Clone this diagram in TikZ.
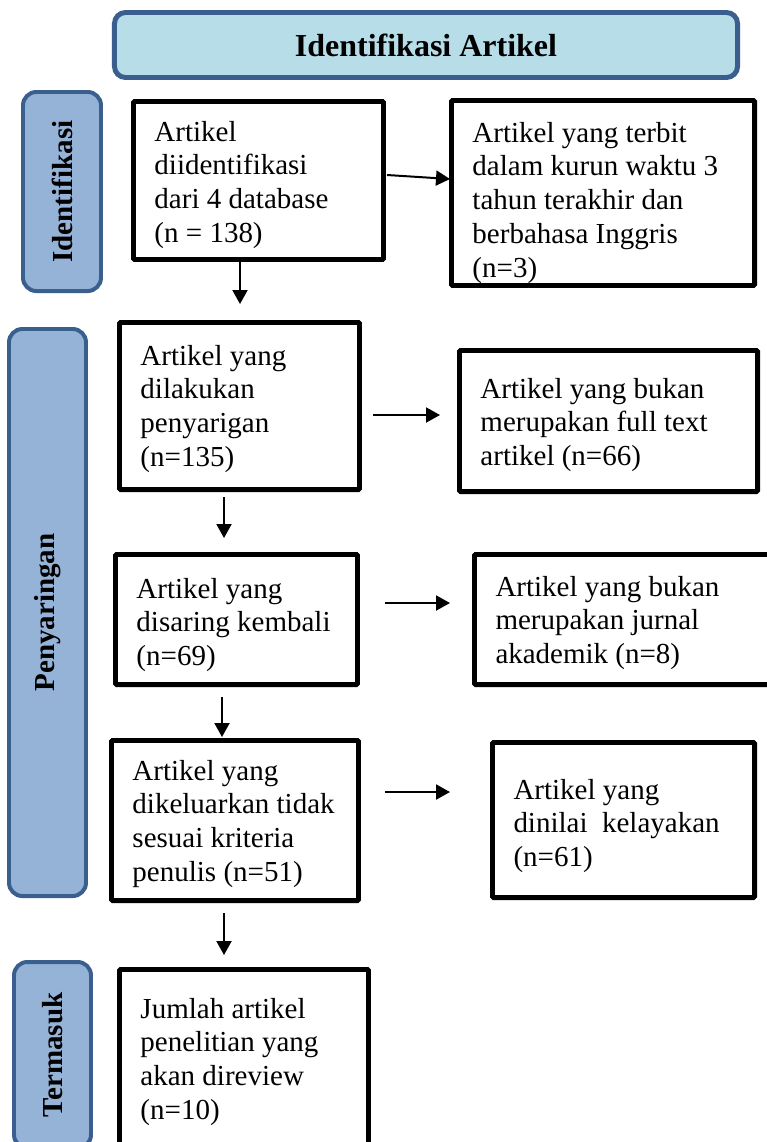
\documentclass[tikz,border=0pt]{standalone}
\usepackage{fontspec}
\setmainfont{Liberation Serif}
\usetikzlibrary{arrows.meta,calc}

\definecolor{judulfill}{HTML}{B7DDE8}
\definecolor{sisifill}{HTML}{95B3D7}
\definecolor{sisiline}{HTML}{3A5F8F}

\begin{document}
\begin{tikzpicture}[x=0.03cm, y=-0.03cm,
    kotak/.style={draw, line width=4.25pt, rounded corners=1pt, align=flush left, inner xsep=0.63cm,
      text height=0pt, font=\fontsize{24.75pt}{29pt}\selectfont},
    sisi/.style={draw=sisiline, fill=sisifill, line width=3.4pt, rounded corners=0.4cm, rotate=90,
      font=\fontsize{24.75pt}{29pt}\selectfont\bfseries},
    panah/.style={line width=1.7pt, -{Triangle[length=0.42cm, width=0.45cm]}}]
      \useasboundingbox (0,0) rectangle (767,1142);
      \clip (0,0) rectangle (767,1142);

      \node[draw=sisiline, fill=judulfill, line width=4.25pt, rounded corners=0.33cm,
        minimum width=18.69cm, minimum height=1.95cm,
        font=\fontsize{27.3pt}{32pt}\selectfont\bfseries] (judul) at (426,45) {Identifikasi Artikel};

      \node[sisi, minimum width=5.97cm, minimum height=2.34cm] (sisiIdent) at (62,191.5) {Identifikasi};
      \node[sisi, minimum width=17.01cm, minimum height=2.31cm] (sisiSaring) at (47.5,612.5) {Penyaringan};
      \node[sisi, minimum width=5.58cm, minimum height=2.31cm] (sisiTermasuk) at (52.5,1055) {Termasuk};

      \node[kotak, minimum width=7.5cm, minimum height=4.74cm, text width=6.24cm, text depth=2.37cm]
        (artIdent) at (258.5,180.5) {Artikel\\diidentifikasi\\dari 4 database\\(n = 138)};
      \node[kotak, minimum width=9.09cm, minimum height=5.55cm, text width=7.83cm, text depth=3.06cm]
        (artTerbit) at (603,193) {Artikel yang terbit\\dalam kurun waktu 3\\tahun terakhir dan\\berbahasa Inggris\\(n=3)};
      \node[kotak, minimum width=7.2cm, minimum height=5.01cm, text width=5.94cm, text depth=2.46cm]
        (artSaring) at (239.5,406) {Artikel yang\\dilakukan\\penyarigan\\(n=135)};
      \node[kotak, minimum width=8.94cm, minimum height=4.23cm, text width=7.68cm, text depth=1.38cm]
        (artFull) at (608.5,421) {Artikel yang bukan\\merupakan full text\\artikel (n=66)};
      \node[kotak, minimum width=7.26cm, minimum height=3.9cm, text width=6cm, text depth=1.29cm]
        (artKembali) at (236.5,619.5) {Artikel yang\\disaring kembali\\(n=69)};
      \node[kotak, minimum width=9.09cm, minimum height=3.9cm, text width=7.83cm, text depth=1.41cm]
        (artJurnal) at (626,619.5) {Artikel yang bukan\\merupakan jurnal\\akademik (n=8)};
      \node[kotak, minimum width=7.41cm, minimum height=4.8cm, text width=6.15cm, text depth=2.43cm]
        (artKeluar) at (235,820.5) {Artikel yang\\dikeluarkan tidak\\sesuai kriteria\\penulis (n=51)};
      \node[kotak, minimum width=7.86cm, minimum height=4.65cm, text width=6.6cm, text depth=1.26cm]
        (artLayak) at (623.5,820) {Artikel yang\\dinilai\ \ kelayakan\\(n=61)};
      \node[kotak, minimum width=7.47cm, minimum height=5.64cm, text width=6.21cm, text depth=2.73cm]
        (artReview) at (244,1063.5) {Jumlah artikel\\penelitian yang\\akan direview\\(n=10)};

      \draw[panah] ($(artIdent.east)+(1,-5.5)$) -- ($(artTerbit.west)+(1,-14)$);
      \draw[panah] ($(artIdent.south)+(-18.5,0)$) -- ($(artSaring.north)+(0.5,-16)$);
      \draw[panah] ($(artSaring.east)+(11,9)$) -- ($(artFull.west)+(-17,-6)$);
      \draw[panah] ($(artSaring.south)+(-15.5,5)$) -- ($(artKembali.north)+(-12.5,-14)$);
      \draw[panah] ($(artKembali.east)+(25,-16.5)$) -- ($(artJurnal.west)+(-22,-16.5)$);
      \draw[panah] ($(artKembali.south)+(-14.5,10)$) -- ($(artKeluar.north)+(-13,-1)$);
      \draw[panah] ($(artKeluar.east)+(24,-28.5)$) -- ($(artLayak.west)+(-40,-28)$);
      \draw[panah] ($(artKeluar.south)+(-11,10)$) -- ($(artReview.north)+(-20,-12)$);
\end{tikzpicture}
\end{document}
